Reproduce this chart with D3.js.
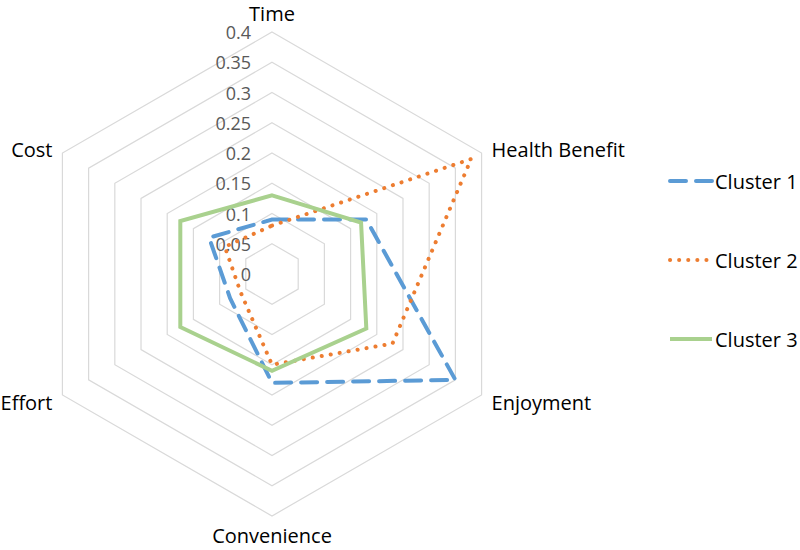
<!DOCTYPE html>
<html>
<head>
<meta charset="utf-8">
<script src="https://cdn.jsdelivr.net/npm/d3@7"></script>
<style>
  body { margin: 0; background: #fff; }
</style>
</head>
<body>
<div class="graph"></div>
<script>
const axes = ["Time", "Health Benefit", "Enjoyment", "Convenience", "Effort", "Cost"]
const cluster1 = [0.09, 0.18, 0.35, 0.18, 0.08, 0.12]
const cluster2 = [0.08, 0.38, 0.23, 0.15, 0.06, 0.09]
const cluster3 = [0.13, 0.17, 0.18, 0.16, 0.175, 0.175]
const seriesNames = ["Cluster 1", "Cluster 2", "Cluster 3"]
const tickValues = [0, 0.05, 0.1, 0.15, 0.2, 0.25, 0.3, 0.35, 0.4]
const tickLabels = ["0", "0.05", "0.1", "0.15", "0.2", "0.25", "0.3", "0.35", "0.4"]

const width = 800, height = 550
const cx = 272, cy = 274, R = 242

const svg = d3.select(".graph").append("svg")
    .attr("width", width)
    .attr("height", height)
    .style("font-family", "'Open Sans', sans-serif")

svg.append("rect")
    .attr("width", "100%")
    .attr("height", "100%")
    .style("fill", "#ffffff")

const r = d3.scaleLinear().domain([0, 0.4]).range([0, R])
const angle = d3.scalePoint().domain(axes).range([0, 2 * Math.PI * (axes.length - 1) / axes.length])

const radial = d3.lineRadial()
    .angle(d => angle(d.axis))
    .radius(d => r(d.value))
    .curve(d3.curveLinearClosed)

const g = svg.append("g").attr("transform", `translate(${cx},${cy})`)

// grid rings
g.append("g")
    .selectAll("path")
    .data(tickValues.filter(t => t > 0))
    .join("path")
    .attr("d", t => radial(axes.map(a => ({axis: a, value: t}))))
    .attr("fill", "none")
    .attr("stroke", "#d9d9d9")
    .attr("stroke-width", 1.2)

// tick labels
g.append("g")
    .selectAll("text")
    .data(tickValues)
    .join("text")
    .attr("x", -21)
    .attr("y", t => -r(t))
    .attr("text-anchor", "end")
    .attr("dominant-baseline", "central")
    .style("font-size", "18px")
    .style("fill", "#595959")
    .text((t, i) => tickLabels[i])

// series
const series = [
  {name: seriesNames[0], values: cluster1, color: "#5b9bd5", dash: "16,10", cap: "round"},
  {name: seriesNames[1], values: cluster2, color: "#ed7d31", dash: "0.1,9", cap: "round"},
  {name: seriesNames[2], values: cluster3, color: "#a9d18e", dash: null, cap: "butt"}
]

g.append("g")
    .selectAll("path")
    .data(series)
    .join("path")
    .attr("d", s => radial(axes.map((a, i) => ({axis: a, value: s.values[i]}))))
    .attr("fill", "none")
    .attr("stroke", s => s.color)
    .attr("stroke-width", 4)
    .attr("stroke-dasharray", s => s.dash)
    .attr("stroke-linecap", s => s.cap)
    .attr("stroke-linejoin", "miter")

// axis labels
g.append("g")
    .selectAll("text")
    .data(axes)
    .join("text")
    .attr("x", a => {
        const s = Math.sin(angle(a))
        return s * R + (Math.abs(s) > 0.1 ? Math.sign(s) * 10 : 0)
    })
    .attr("y", a => {
        const c = Math.cos(angle(a))
        if (Math.abs(c) > 0.99) return -c * (R + 19)
        return -c * R + (c > 0 ? -4 : 7)
    })
    .attr("text-anchor", a => {
        const s = Math.sin(angle(a))
        return s > 0.1 ? "start" : (s < -0.1 ? "end" : "middle")
    })
    .attr("dominant-baseline", "central")
    .style("font-size", "20px")
    .style("fill", "#000")
    .text(a => a)

// legend
const legendY = d3.scalePoint().domain(seriesNames).range([181, 339])

const legend = svg.append("g")
    .selectAll("g")
    .data(series)
    .join("g")
    .attr("transform", s => `translate(668, ${legendY(s.name)})`)

legend.append("line")
    .attr("x1", 2)
    .attr("x2", 44)
    .attr("stroke", s => s.color)
    .attr("stroke-width", 4)
    .attr("stroke-dasharray", s => s.dash)
    .attr("stroke-linecap", s => s.cap)

legend.append("text")
    .attr("x", 47)
    .attr("dominant-baseline", "central")
    .style("font-size", "20px")
    .style("fill", "#000")
    .text(s => s.name)
</script>
</body>
</html>
